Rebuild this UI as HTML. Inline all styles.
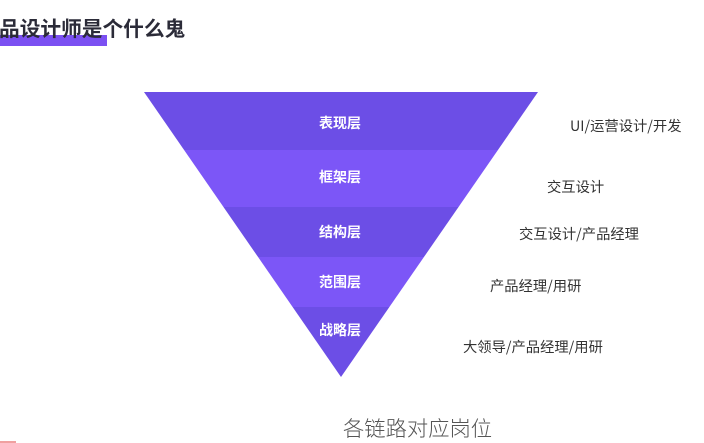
<!DOCTYPE html>
<html>
<head>
<meta charset="utf-8">
<style>
  html, body { margin:0; padding:0; background:#fff; }
  body { width:704px; height:443px; overflow:hidden; position:relative; }
  svg { position:absolute; left:0; top:0; }
  .t { font-family:"Liberation Sans","Noto Sans CJK SC",sans-serif; }
  .c { font-family:"Noto Sans CJK SC","Liberation Sans",sans-serif; }
</style>
</head>
<body>
<svg width="704" height="443" viewBox="0 0 704 443" xmlns="http://www.w3.org/2000/svg">
  <defs>
    <clipPath id="tri">
      <polygon points="144,92 538,92 341,377"/>
    </clipPath>
  </defs>

  <!-- title -->
  <rect x="0" y="35" width="107" height="11" fill="#7b50f2"/>
  <text class="t" x="-1" y="36" font-size="20.7" font-weight="bold" fill="#2b2b38">品设计师是个什么鬼</text>

  <!-- pyramid bands -->
  <g clip-path="url(#tri)">
    <rect x="140" y="92" width="402" height="58" fill="#6c4ee6"/>
    <rect x="140" y="150" width="402" height="57" fill="#7c56f7"/>
    <rect x="140" y="207" width="402" height="50" fill="#6c4ee6"/>
    <rect x="140" y="257" width="402" height="50" fill="#7c56f7"/>
    <rect x="140" y="307" width="402" height="72" fill="#6c4ee6"/>
  </g>

  <!-- layer labels -->
  <g class="t" font-size="14" font-weight="bold" fill="#ffffff" text-anchor="middle">
    <text x="340" y="128">表现层</text>
    <text x="340" y="182">框架层</text>
    <text x="340" y="237">结构层</text>
    <text x="340" y="287">范围层</text>
    <text x="340" y="335">战略层</text>
  </g>

  <!-- right labels -->
  <g class="c" font-size="14.3" fill="#333333">
    <text x="570" y="131">UI/运营设计/开发</text>
    <text x="547" y="192">交互设计</text>
    <text x="519" y="239">交互设计/产品经理</text>
    <text x="490" y="291">产品经理/用研</text>
    <text x="463" y="352">大领导/产品经理/用研</text>
  </g>

  <!-- bottom caption -->
  <text class="t" x="343" y="436" font-size="21.3" font-weight="300" fill="#555555">各链路对应岗位</text>

  <!-- small red mark bottom-left -->
  <rect x="0" y="441" width="16" height="2" fill="#f0a0a0"/>
</svg>
</body>
</html>
